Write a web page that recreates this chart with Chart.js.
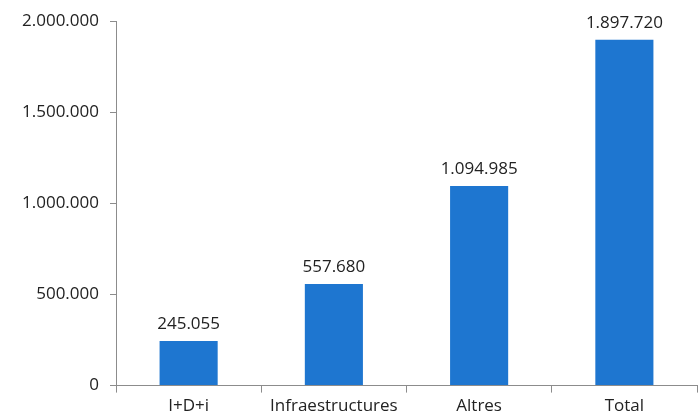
<!DOCTYPE html>
<html>
<head>
<meta charset="utf-8">
<script src="https://cdn.jsdelivr.net/npm/chart.js@4/dist/chart.umd.min.js"></script>
<style>
  html, body { margin: 0; padding: 0; background: #fff; }
  #wrap { width: 699px; height: 419px; }
</style>
</head>
<body>
<div id="wrap"><canvas id="bars"></canvas></div>
<script>
const categories = ['I+D+i', 'Infraestructures', 'Altres', 'Total']
const values = [245055, 557680, 1094985, 1897720]
const yTicks = [0, 500000, 1000000, 1500000, 2000000]

function fmt(v) {
  return String(Math.round(v)).replace(/\B(?=(\d{3})+(?!\d))/g, '.')
}

// labels above the bars
const barLabels = {
  id: 'barLabels',
  afterDatasetsDraw(chart) {
    const ctx = chart.ctx
    const meta = chart.getDatasetMeta(0)
    ctx.save()
    ctx.fillStyle = '#222'
    ctx.font = '17px "Open Sans"'
    ctx.textAlign = 'center'
    ctx.textBaseline = 'bottom'
    meta.data.forEach(function(bar, i) {
      ctx.fillText(fmt(values[i]), bar.x, bar.y - 8)
    })
    ctx.restore()
  }
}

const ctxbars = document.getElementById('bars')
if(ctxbars) {
  const bars = {
    type: 'bar',
    data: {
      labels: categories,
      datasets: [
        {
          label: 'Import',
          backgroundColor: '#1E76D0',
          borderWidth: 0,
          barPercentage: 0.4,
          categoryPercentage: 1,
          data: values,
        },
      ],
    },
    options: {
      responsive: true,
      maintainAspectRatio: false,
      animation: false,
      layout: { padding: { top: 14, right: 2, left: 0, bottom: 0 } },
      plugins: {
        legend: { display: false },
        tooltip: { enabled: false },
      },
      scales: {
        x: {
          border: { display: true, color: '#8c8c8c', width: 1 },
          grid: { display: true, drawOnChartArea: false, drawTicks: true, tickLength: 7, color: '#8c8c8c', offset: true },
          ticks: { color: '#222', font: { family: 'Open Sans', size: 17 }, padding: 3 },
        },
        y: {
          min: 0,
          max: 2000000,
          afterFit(scale) { scale.width = 116 },
          afterBuildTicks(scale) { scale.ticks = yTicks.map(v => ({ value: v })) },
          border: { display: true, color: '#8c8c8c', width: 1 },
          grid: { display: true, drawOnChartArea: false, drawTicks: true, tickLength: 6, color: '#8c8c8c' },
          ticks: {
            color: '#222',
            font: { family: 'Open Sans', size: 17 },
            padding: 11,
            callback: function(v) { return fmt(v) },
          },
        },
      },
    },
    plugins: [barLabels],
  }

  window.myBar = new Chart(ctxbars, bars);
}
</script>
</body>
</html>
